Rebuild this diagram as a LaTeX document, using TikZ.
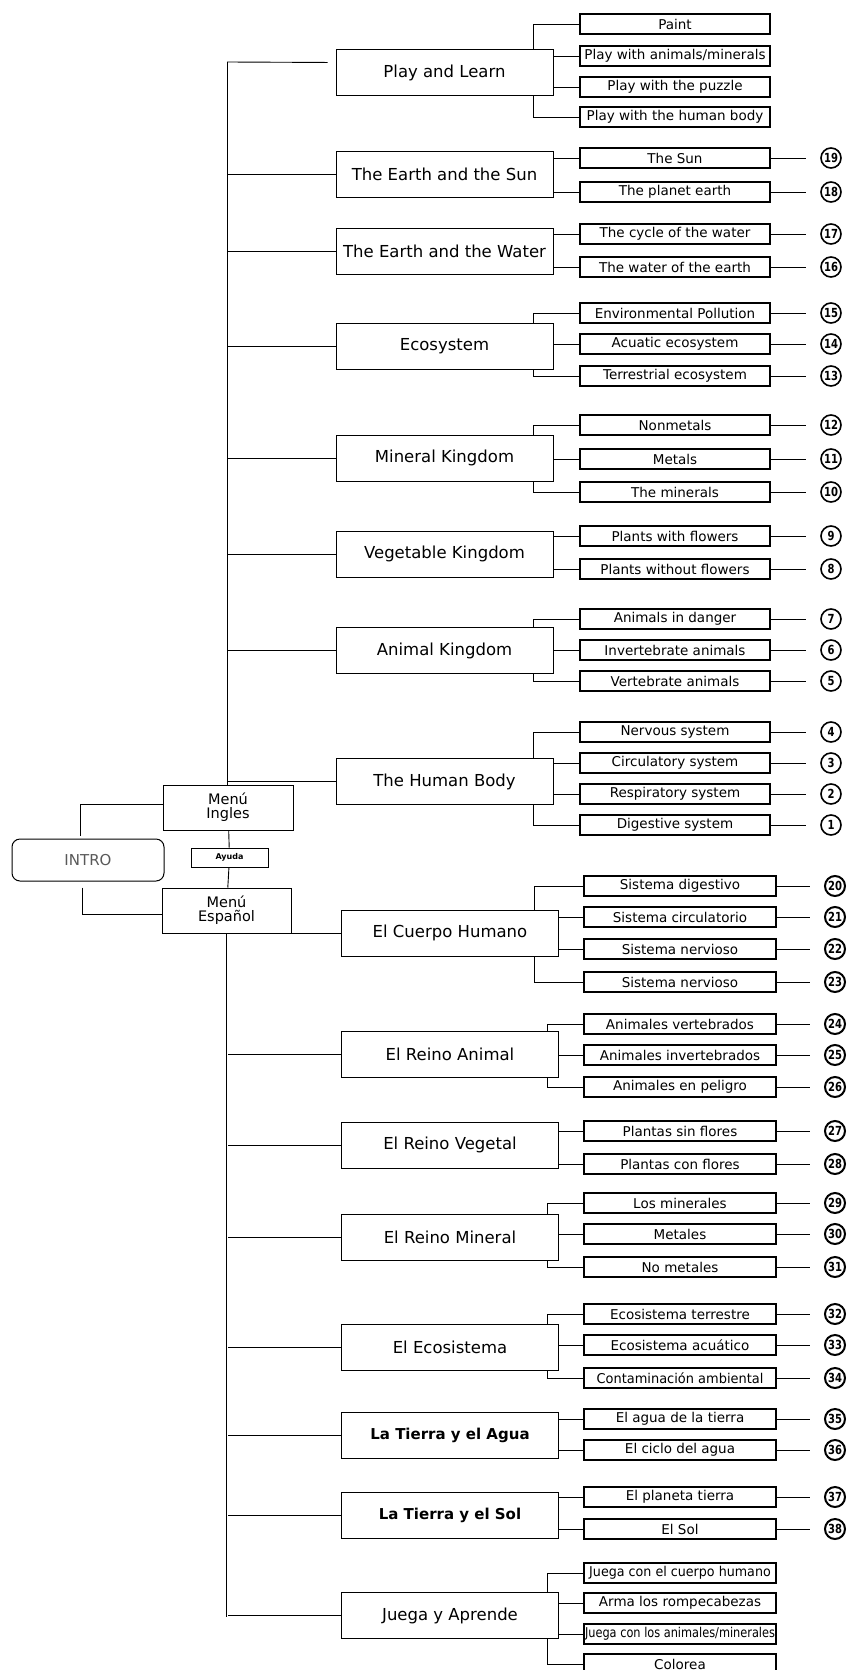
\documentclass[tikz,border=0pt]{standalone}
\usepackage{fontspec}
\setmainfont{DejaVu Sans}
\usetikzlibrary{calc}

\newcommand\squeezed[2]{\scalebox{#1}[1]{#2}}

\tikzset{
  menubox/.style={draw, line width=1pt, minimum width=217pt, minimum height=46pt,
    inner sep=2pt, font=\fontsize{16.5}{18}\selectfont},
  leafbox/.style={draw, line width=1.1pt, minimum width=190pt, minimum height=20pt,
    inner sep=1pt, font=\fontsize{13.5}{14}\selectfont},
  numdot/.style={circle, draw, line width=1.6pt, minimum size=20pt, inner sep=0pt,
    font=\bfseries\fontsize{12.5}{12.5}\selectfont},
  sidebox/.style={draw, line width=1pt, minimum width=130pt, minimum height=45pt,
    align=center, inner sep=1pt, font=\fontsize{14.5}{14}\selectfont},
}

\begin{document}
\begin{tikzpicture}[x=1pt,y=-1pt,line width=.9pt]
\useasboundingbox (0,0) rectangle (849,1670);

% left part
\node[draw, rounded corners=8pt, line width=1pt, minimum width=152pt, minimum height=42pt,
      text=black!65, font=\fontsize{15}{16}\selectfont] (intro) at (88,860) {INTRO};
\node[sidebox] (mi) at (228,807.5) {Menú\\Ingles};
\node[draw, line width=1pt, minimum width=77pt, minimum height=19pt, inner sep=0pt,
      font=\bfseries\fontsize{8}{8}\selectfont] (ay) at (229.5,857.5) {Ayuda};
\node[sidebox, minimum width=129pt] (me) at (226.5,910.5) {Menú\\Español};
\draw ([xshift=-8pt,yshift=3pt]intro.north) |- ([yshift=3pt]mi.west);
\draw ([xshift=-6pt,yshift=-6pt]intro.south) |- ([yshift=-4pt]me.west);
\draw (mi) -- (ay);
\draw (ay) -- (me);

\coordinate (top) at (227,62);
\coordinate (bot) at (228,1617);
\draw (top) -- (top |- mi.north);
\draw (me.south) -- (me.south |- bot);

% english menu
\node[menubox] (pl) at (444.5,72.5) {Play and Learn};
\node[menubox] (es) at (444.5,174) {The Earth and the Sun};
\node[menubox] (ew) at (444.5,251) {The Earth and the Water};
\node[menubox] (ec) at (444.5,346.5) {Ecosystem};
\node[menubox] (mk) at (444.5,458) {Mineral Kingdom};
\node[menubox] (vk) at (444.5,554) {Vegetable Kingdom};
\node[menubox] (ak) at (444.5,650.5) {Animal Kingdom};
\node[menubox] (hb) at (444.5,781.5) {The Human Body};

\draw[shorten >=8pt] (top) -- ([yshift=10pt]pl.west);
\foreach \m in {es,ew,ec,mk,vk,ak,hb}
  \draw (\m.west) -- (\m.west -| top);

\foreach \nm/\y/\txt in {pl1/24/Paint, pl2/56/{Play with animals/minerals},
    pl3/87/{Play with the puzzle}, pl4/117/{Play with the human body}}
  \node[leafbox] (\nm) at (675,\y) {\txt};

\foreach \nm/\y/\txt/\k in {es1/158/{The Sun}/19, es2/192/{The planet earth}/18,
    ew1/234/{The cycle of the water}/17, ew2/267/{The water of the earth}/16,
    ec1/313/{Environmental Pollution}/15, ec2/344/{Acuatic ecosystem}/14,
    ec3/376/{Terrestrial ecosystem}/13,
    mk1/425/Nonmetals/12, mk2/459/Metals/11, mk3/492/{The minerals}/10,
    vk1/536/{Plants with flowers}/9, vk2/569/{Plants without flowers}/8,
    ak1/619/{Animals in danger}/7, ak2/650/{Invertebrate animals}/6,
    ak3/681/{Vertebrate animals}/5,
    hb1/732/{Nervous system}/4, hb2/763/{Circulatory system}/3,
    hb3/794/{Respiratory system}/2, hb4/825/{Digestive system}/1} {
  \node[leafbox] (\nm) at (675,\y) {\txt};
  \node[numdot] (n\k) at (831,\y) {\squeezed{.8}{\k}};
  \draw[shorten >=14pt] (\nm) -- (n\k);
}

% brackets
\foreach \a/\b in {pl1/pl, ec1/ec, mk1/mk, ak1/ak, hb1/hb}
  \draw (\a.west) -| ([xshift=-20pt]\b.north east);
\foreach \a/\b in {pl4/pl, ec3/ec, mk3/mk, ak3/ak, hb4/hb}
  \draw (\a.west) -| ([xshift=-20pt]\b.south east);
\foreach \a/\b in {pl2/pl, pl3/pl, es1/es, es2/es, ew1/ew, ew2/ew, ec2/ec, mk2/mk,
    vk1/vk, vk2/vk, ak2/ak, hb2/hb, hb3/hb}
  \draw (\a.west) -- (\a.west -| \b.east);

% spanish menu
\node[menubox] (ch) at (450,933) {El Cuerpo Humano};
\node[menubox] (ra) at (450,1054.5) {El Reino Animal};
\node[menubox] (rv) at (450,1145) {El Reino Vegetal};
\node[menubox] (rm) at (450,1237.5) {El Reino Mineral};
\node[menubox] (ee) at (450,1347.5) {El Ecosistema};
\node[menubox, font=\bfseries\fontsize{15}{16}\selectfont] (ta) at (450,1435.5) {La Tierra y el Agua};
\node[menubox, font=\bfseries\fontsize{15}{16}\selectfont] (ts) at (450,1515) {La Tierra y el Sol};
\node[menubox] (ja) at (450,1615.5) {Juega y Aprende};

\foreach \m in {ch,ra,rv,rm,ee,ta,ts,ja}
  \draw (\m.west) -- (\m.west -| bot);

\foreach \nm/\y/\txt/\k in {ch1/886/{Sistema digestivo}/20, ch2/917/{Sistema circulatorio}/21,
    ch3/949/{Sistema nervioso}/22, ch4/982/{Sistema nervioso}/23,
    ra1/1024/{Animales vertebrados}/24, ra2/1055/{Animales invertebrados}/25,
    ra3/1087/{Animales en peligro}/26,
    rv1/1131/{Plantas sin flores}/27, rv2/1164/{Plantas con flores}/28,
    rm1/1203/{Los minerales}/29, rm2/1234/Metales/30, rm3/1267/{No metales}/31,
    ee1/1314/{Ecosistema terrestre}/32, ee2/1345/{Ecosistema acuático}/33,
    ee3/1378/{\squeezed{.96}{Contaminación ambiental}}/34,
    ta1/1419/{El agua de la tierra}/35, ta2/1450/{El ciclo del agua}/36,
    ts1/1497/{El planeta tierra}/37, ts2/1529/{El Sol}/38} {
  \node[leafbox, minimum width=192pt] (\nm) at (680,\y) {\txt};
  \node[numdot, line width=2pt] (n\k) at (835,\y) {\squeezed{.8}{\k}};
  \draw[shorten >=14pt] (\nm) -- (n\k);
}

\foreach \nm/\y/\txt in {ja1/1573/{\squeezed{.94}{Juega con el cuerpo humano}},
    ja2/1603/{Arma los rompecabezas},
    ja3/1634/{\squeezed{.84}{Juega con los animales/minerales}}, ja4/1664/Colorea}
  \node[leafbox, minimum width=192pt] (\nm) at (680,\y) {\txt};

\draw (ch1.west) -| ([xshift=-25pt]ch.north east);
\draw (ch4.west) -| ([xshift=-25pt]ch.south east);
\foreach \a/\b in {ra1/ra, rm1/rm, ee1/ee, ja1/ja}
  \draw (\a.west) -| ([xshift=-12pt]\b.north east);
\foreach \a/\b in {ra3/ra, rm3/rm, ee3/ee, ja4/ja}
  \draw (\a.west) -| ([xshift=-12pt]\b.south east);
\foreach \a/\b in {ch2/ch, ch3/ch, ra2/ra, rv1/rv, rv2/rv, rm2/rm, ee2/ee,
    ta1/ta, ta2/ta, ts1/ts, ts2/ts, ja2/ja, ja3/ja}
  \draw (\a.west) -- (\a.west -| \b.east);
\end{tikzpicture}
\end{document}
